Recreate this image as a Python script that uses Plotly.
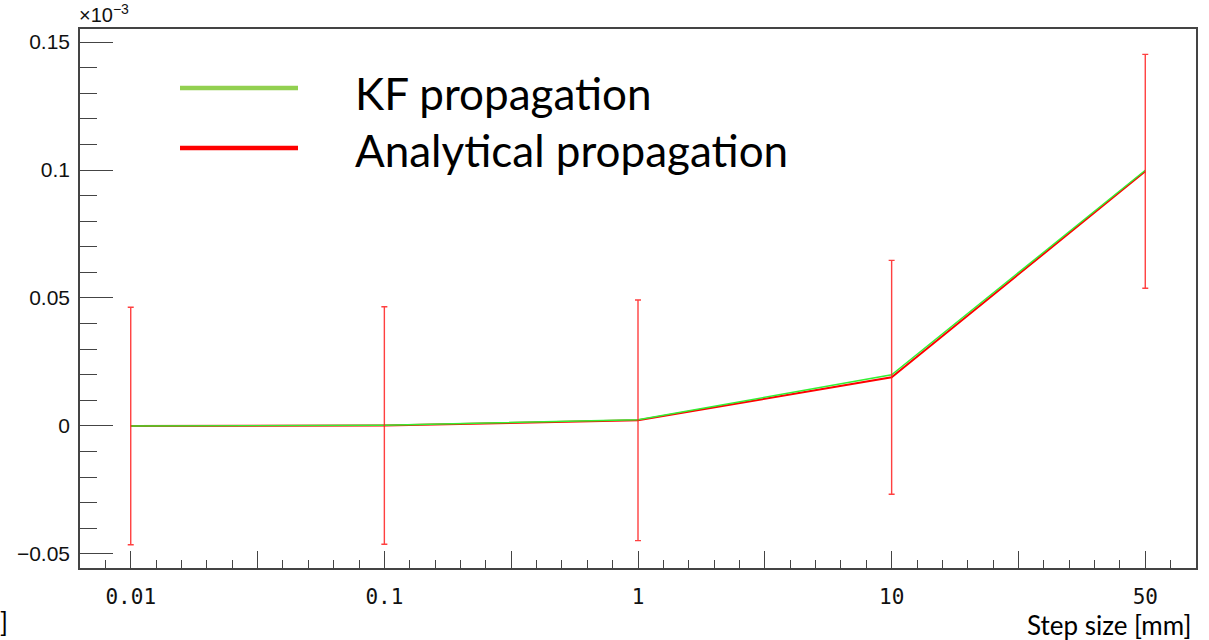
import plotly.graph_objects as go

# Step sizes (x categories) and residuals in units of 1e-3
step_labels = ["0.01", "0.1", "1", "10", "50"]
kf_values = [0.0, 0.0003, 0.0024, 0.0200, 0.0999]
analytical_values = [0.0, 0.0002, 0.0022, 0.0190, 0.0995]
analytical_errors = [0.0464, 0.0464, 0.0470, 0.0457, 0.0457]

legend_names = ["KF propagation", "Analytical propagation"]

W, H = 1209, 640
ML, MR, MT, MB = 80, 13, 29, 72
PW, PH = W - ML - MR, H - MT - MB

x_pos = list(range(len(step_labels)))


def px_x(px):
    return (px - ML) / PW


def px_y(py):
    return 1 - (py - MT) / PH


fig = go.Figure()

# Analytical propagation line (drawn first, below the KF line)
fig.add_trace(go.Scatter(
    x=x_pos, y=analytical_values, mode="lines",
    line=dict(color="#ff0000", width=2.0),
    name=legend_names[1], showlegend=False, hoverinfo="skip",
))
# KF propagation line
fig.add_trace(go.Scatter(
    x=x_pos, y=kf_values, mode="lines",
    line=dict(color="#33f033", width=1.4),
    name=legend_names[0], showlegend=False, hoverinfo="skip",
))
# Error bars of the analytical propagation
fig.add_trace(go.Scatter(
    x=x_pos, y=analytical_values, mode="markers",
    marker=dict(size=1, color="rgba(255,0,0,0)"),
    error_y=dict(type="data", array=analytical_errors, visible=True,
                 color="rgba(255,30,30,0.85)", thickness=1.4, width=3),
    showlegend=False, hoverinfo="skip",
))

# Major x ticks every half step, labels only at the step positions
major_x = [i * 0.5 for i in range(0, 2 * len(step_labels) - 1)]
major_text = [step_labels[int(v)] if v == int(v) else "" for v in major_x]

axis_color = "#444444"

fig.update_xaxes(
    range=[-0.2, 4.2],
    tickmode="array", tickvals=major_x, ticktext=major_text,
    ticks="inside", ticklen=17, tickwidth=1.2, tickcolor=axis_color,
    minor=dict(dtick=0.1, tick0=0, ticks="inside", ticklen=8,
               tickwidth=1.2, tickcolor=axis_color),
    showline=True, linecolor=axis_color, linewidth=1.5, mirror=True,
    showgrid=False, zeroline=False,
    tickfont=dict(family="DejaVu Sans Mono", size=21, color="#111111"),
    ticklabelstandoff=9,
)
fig.update_yaxes(
    range=[-0.0555, 0.1551],
    tickmode="linear", tick0=0, dtick=0.05,
    ticks="inside", ticklen=33, tickwidth=1.2, tickcolor=axis_color,
    minor=dict(dtick=0.01, ticks="inside", ticklen=17,
               tickwidth=1.2, tickcolor=axis_color),
    showline=True, linecolor=axis_color, linewidth=1.5, mirror=True,
    showgrid=False, zeroline=False,
    tickfont=dict(family="Liberation Sans", size=21, color="#111111"),
    ticklabelstandoff=4,
)

# Legend drawn as coloured strokes with large labels
legend_colors = ["#92d050", "#ff0000"]
legend_rows = [88, 148]
legend_text_y = [93, 150]
shapes = []
annotations = []
for name, col, ly, ty in zip(legend_names, legend_colors, legend_rows, legend_text_y):
    shapes.append(dict(type="line", xref="paper", yref="paper",
                       x0=px_x(180), x1=px_x(298), y0=px_y(ly), y1=px_y(ly),
                       line=dict(color=col, width=4.5)))
    annotations.append(dict(text=name, xref="paper", yref="paper",
                            x=px_x(353), y=px_y(ty), xanchor="left", yanchor="middle",
                            showarrow=False,
                            font=dict(family="Lato", size=44, color="#000000")))

# Exponent label above the y axis
annotations.append(dict(text="×10<sup>−3</sup>", xref="paper", yref="paper",
                        x=px_x(77), y=px_y(28), xanchor="left", yanchor="bottom",
                        showarrow=False,
                        font=dict(family="Liberation Sans", size=20, color="#111111")))
# x axis title
annotations.append(dict(text="Step size [mm]", xref="paper", yref="paper",
                        x=px_x(1193), y=px_y(625), xanchor="right", yanchor="middle",
                        showarrow=False,
                        font=dict(family="Lato", size=26, color="#000000")))
# Remnant of the y axis title bracket at the lower left
annotations.append(dict(text="]", xref="paper", yref="paper",
                        x=px_x(10), y=px_y(622), xanchor="right", yanchor="middle",
                        showarrow=False,
                        font=dict(family="Lato", size=26, color="#000000")))

fig.update_layout(
    width=W, height=H,
    margin=dict(l=ML, r=MR, t=MT, b=MB, pad=0),
    paper_bgcolor="white", plot_bgcolor="white",
    shapes=shapes, annotations=annotations,
    showlegend=False,
)

fig.write_html("out.html")
